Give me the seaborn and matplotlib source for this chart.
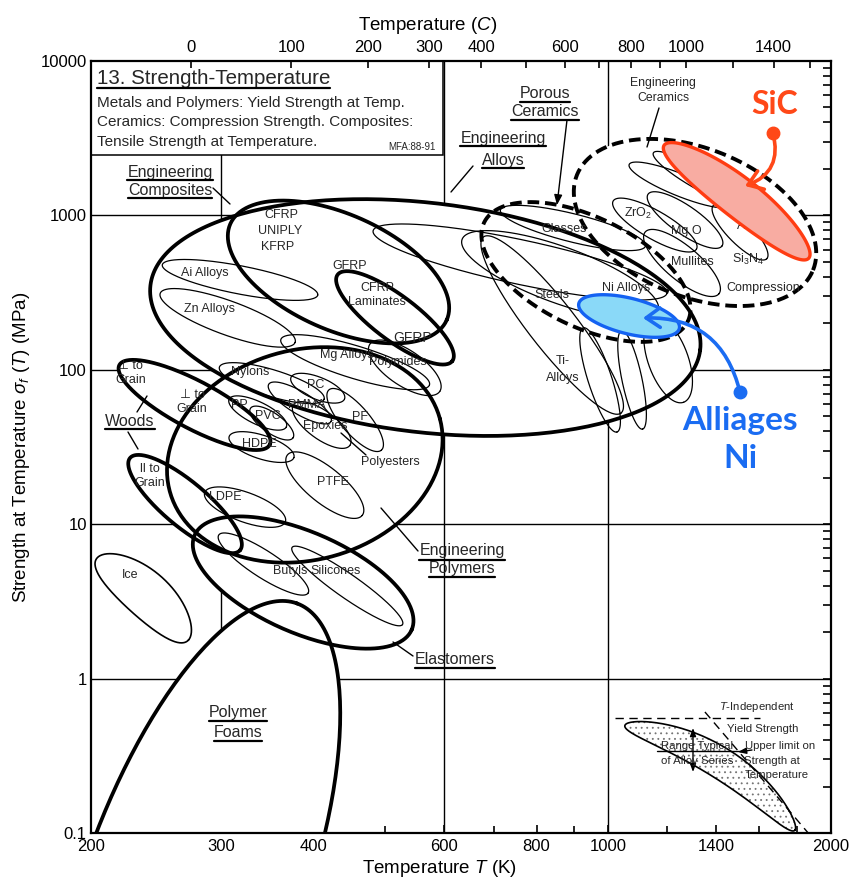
import numpy as np
import pandas as pd
import matplotlib
matplotlib.use("Agg")
import matplotlib.pyplot as plt
from matplotlib.ticker import FixedLocator, FixedFormatter, NullFormatter, LogLocator
from matplotlib.patches import Rectangle
from matplotlib.lines import Line2D
import seaborn as sns

# ---------------- data ----------------
T_range = [200, 2000]          # K
S_range = [0.1, 10000]         # MPa
T_ticks = [200, 300, 400, 600, 800, 1000, 1400, 2000]
T_minor = [500, 700, 900, 1200, 1600, 1800]
C_ticks = [0, 100, 200, 300, 400, 600, 800, 1000, 1400]
C_minor = [500, 700, 900, 1200, 1600]
S_ticks = [0.1, 1, 10, 100, 1000, 10000]
S_tick_labels = ["0.1", "1", "10", "100", "1000", "10000"]
grid_T = [300, 600, 1000]
grid_S = [1, 10, 100, 1000]

# property envelopes: centre temperature (K), centre strength (MPa),
# half-length, half-width and bend (decades of T), tilt (degrees)
env_name = ["Engineering Alloys", "Engineering Composites", "GFRP", "Engineering Polymers",
            "Woods perp", "Woods par", "Elastomers", "Polymer Foams", "Ice",
            "Porous Ceramics", "Engineering Ceramics", "SiC", "Ni Alloys",
            "ZrO2", "MgO", "Mullites", "Si3N4", "Ceramic A", "Ceramic B", "Al2O3",
            "Glasses", "Steels", "Ti Alloys", "Alloy B", "Alloy C", "Alloy D", "Alloy E",
            "Nylons", "PP", "PVC", "PMMA", "PC", "Epoxies", "PF", "HDPE", "PTFE", "LDPE",
            "Mg Alloys", "Polymides", "Ai Alloys", "Zn Alloys", "Butyls", "Silicones",
            "Alloy Series"]
env_group = ["family", "family", "family", "family",
             "family", "family", "family", "family", "ice",
             "porous", "porous", "sic", "ni",
             "material", "material", "material", "material", "material", "material", "material",
             "material", "material", "material", "material", "material", "material", "material",
             "material", "material", "material", "material", "material", "material", "material",
             "material", "material", "material",
             "material", "material", "material", "material", "material", "material",
             "legend"]
env_T = [566, 432, 515, 389,
         276, 268, 387, 276, 235,
         933, 1310, 1491, 1067,
         1156, 1270, 1258, 1507, 1250, 1318, 1578,
         896, 861, 840, 975, 1077, 1205, 760,
         351, 336, 351, 383, 405, 410, 455, 340, 414, 323,
         455, 531, 318, 306, 342, 444,
         1373]
env_S = [218, 430, 217, 28.1,
         59.2, 13.5, 4.19, 0.046, 3.28,
         430, 900, 1230, 223,
         866, 933, 492, 780, 1574, 1747, 1006,
         829, 411, 195, 86, 86, 116, 499,
         82, 52.5, 45.2, 61, 76, 43.9, 47.3, 31.6, 17.9, 12.9,
         112, 103, 382, 217, 5.52, 3.98,
         0.229]
env_len = [0.374, 0.160, 0.097, 0.189,
           0.115, 0.097, 0.160, 0.405, 0.083,
           0.153, 0.172, 0.124, 0.070,
           0.065, 0.061, 0.065, 0.051, 0.074, 0.068, 0.068,
           0.101, 0.141, 0.151, 0.074, 0.068, 0.061, 0.203,
           0.074, 0.043, 0.035, 0.049, 0.039, 0.047, 0.054, 0.046, 0.065, 0.058,
           0.105, 0.057, 0.107, 0.097, 0.072, 0.091,
           0.135]
env_wid = [0.155, 0.078, 0.030, 0.142,
           0.032, 0.030, 0.068, 0.149, 0.031,
           0.074, 0.100, 0.027, 0.024,
           0.019, 0.019, 0.023, 0.016, 0.015, 0.0135, 0.018,
           0.019, 0.038, 0.032, 0.016, 0.0135, 0.027, 0.030,
           0.018, 0.015, 0.0135, 0.015, 0.015, 0.019, 0.019, 0.016, 0.024, 0.020,
           0.022, 0.024, 0.019, 0.023, 0.018, 0.016,
           0.021]
env_tilt = [-6.7, -24, -37, 15,
            -28, -40, -23.6, 70, -42,
            -26, -22, -38, -14,
            -30, -35, -40, -45, -22, -30, -38,
            -14, -20, -52, -72, -78, -70, -12,
            -17, -26, -35, -31, -22, -36, -49, -18, -39, -20,
            -17, -34, -11, -20, -33, -35,
            -31.7]
env_bend = [0] * 8 + [0.008] + [0] * 2 + [0.006] + [0] * 31 + [0.024]

# reference lines of the inset sketch
indep_T = [1021, 1604]
indep_S = [0.556, 0.556]
limit_T = [1351, 1880]
limit_S = [0.608, 0.095]

# ---------------- figure ----------------
sns.set_theme(style="white")
plt.rcParams["font.family"] = ["Liberation Sans", "DejaVu Sans"]
plt.rcParams["mathtext.fontset"] = "custom"
plt.rcParams["mathtext.rm"] = "Liberation Sans"
plt.rcParams["mathtext.it"] = "Liberation Sans:italic"
plt.rcParams["mathtext.bf"] = "Liberation Sans:bold"
plt.rcParams["hatch.color"] = "0.45"
plt.rcParams["hatch.linewidth"] = 0.6

fig = plt.figure(figsize=(8.56, 8.88), dpi=100)
ax = fig.add_axes([91 / 856, 1 - 833 / 888, 740 / 856, 772 / 888])
ax.set_xscale("log")
ax.set_yscale("log")
ax.set_xlim(*T_range)
ax.set_ylim(*S_range)
ax.set_autoscale_on(False)

W = ax.bbox.width  # display pixels per decade of T


def envelope(T, S, a, b, tilt, bend, n=241):
    cx, cy = ax.transData.transform((T, S))
    t = np.linspace(0, 2 * np.pi, n)
    c, s = np.cos(t), np.sin(t)
    th = np.deg2rad(tilt)
    ux, uy = np.cos(th), np.sin(th)
    vx, vy = -uy, ux
    al = a * W * c
    ac = b * W * s + bend * W * (1 - c ** 2)
    X = cx + al * ux + ac * vx
    Y = cy + al * uy + ac * vy
    d = ax.transData.inverted().transform(np.column_stack([X, Y]))
    return d[:, 0], d[:, 1]


frames = []
for i, nm in enumerate(env_name):
    x, y = envelope(env_T[i], env_S[i], env_len[i], env_wid[i], env_tilt[i], env_bend[i])
    frames.append(pd.DataFrame({"T": x, "S": y, "name": nm, "group": env_group[i]}))
df = pd.concat(frames, ignore_index=True)

# grid lines
for gT in grid_T:
    ax.axvline(gT, color="black", lw=1.0, zorder=0.5)
for gS in grid_S:
    ax.axhline(gS, color="black", lw=1.0, zorder=0.5)

# white fills of the big envelopes
for nm, g in df.groupby("name", sort=False):
    grp = g["group"].iloc[0]
    if grp in ("family", "porous", "ice", "legend"):
        ax.fill(g["T"], g["S"], facecolor="white", edgecolor="none", zorder=1)
    if grp == "legend":
        ax.fill(g["T"], g["S"], facecolor="none", edgecolor="0.45", lw=0, hatch="...",
                zorder=1.1)

# outlines
sns.lineplot(data=df[df.group == "material"], x="T", y="S", units="name", estimator=None,
             sort=False, color="black", lw=0.9, ax=ax, legend=False, zorder=2)
sns.lineplot(data=df[df.group.isin(["ice", "legend"])], x="T", y="S", units="name",
             estimator=None, sort=False, color="black", lw=1.2, ax=ax, legend=False, zorder=2)
sns.lineplot(data=df[df.group == "family"], x="T", y="S", units="name", estimator=None,
             sort=False, color="black", lw=2.7, ax=ax, legend=False, zorder=2.4)
for nm, g in df[df.group == "porous"].groupby("name", sort=False):
    ax.plot(g["T"], g["S"], color="black", lw=2.8, ls=(0, (3, 1.5)), zorder=2.5)
for nm, g in df[df.group == "sic"].groupby("name", sort=False):
    ax.fill(g["T"], g["S"], facecolor="#f8aca2", edgecolor="#ff3c12", lw=2.4, zorder=3)
for nm, g in df[df.group == "ni"].groupby("name", sort=False):
    ax.fill(g["T"], g["S"], facecolor="#8ad9f8", edgecolor="#1462f2", lw=2.4, zorder=3)

sns.lineplot(x=indep_T, y=indep_S, color="black", lw=1.0, ax=ax, legend=False, zorder=2.6,
             linestyle=(0, (6, 4)))
sns.lineplot(x=limit_T, y=limit_S, color="black", lw=1.0, ax=ax, legend=False, zorder=2.6,
             linestyle=(0, (6, 4)))
ax.set_xlim(*T_range)
ax.set_ylim(*S_range)


# ---------------- text ----------------
def P(px, py):
    return ((px - 91) / 740, (833 - py) / 772)


def label(px, py, s, size=9.3, ha="center", va="center", z=6, **kw):
    return ax.text(*P(px, py), s, transform=ax.transAxes, fontsize=size, ha=ha, va=va,
                   zorder=z, **kw)


small = [(281, 215, "CFRP"), (280, 231, "UNIPLY"), (278, 247, "KFRP"), (350, 266, "GFRP"),
         (377, 288, "CFRP"), (377, 302, "Laminates"), (205, 273, "Ai Alloys"),
         (210, 309, "Zn Alloys"), (347, 355, "Mg Alloys"), (398, 362, "Polymides"),
         (250, 372, "Nylons"), (239, 405, "PP"), (268, 416, "PVC"), (307, 405, "PMMA"),
         (316, 385, "PC"), (325, 426, "Epoxies"), (360, 417, "PF"), (259, 444, "HDPE"),
         (390, 462, "Polyesters"), (333, 482, "PTFE"), (225, 497, "LDPE"),
         (290, 571, "Butyls"), (336, 571, "Silicones"), (130, 575, "Ice"),
         (130, 366, "\u22a5 to"), (131, 380, "Grain"), (192, 395, "\u22a5 to"),
         (192, 409, "Grain"), (150, 469, "ll to"), (150, 483, "Grain"),
         (564, 229, "Glasses"), (552, 295, "Steels"), (626, 288, "Ni Alloys"),
         (563, 361, "Ti-"), (563, 378, "Alloys"), (638, 213, "ZrO$_2$"),
         (686, 231, "Mg O"), (692, 262, "Mullites"), (748, 259, "Si$_3$N$_4$"),
         (763, 288, "Compression")]
for px, py, s in small:
    label(px, py, s, 9.0)
label(663, 83, "Engineering", 8.8)
label(663, 98, "Ceramics", 8.8)
label(752, 226, "Al$_2$O$_3$", 9.0, z=2.8)
label(413, 338, "GFRP", 10)

fam = [(170, 172, "Engineering"), (170, 190, "Composites"), (503, 138, "Engineering"),
       (503, 160, "Alloys"), (545, 94, "Porous"), (545, 112, "Ceramics"),
       (130, 421, "Woods"), (462, 551, "Engineering"), (462, 569, "Polymers"),
       (455, 659, "Elastomers"), (238, 712, "Polymer"), (238, 732, "Foams")]
underlined = [label(px, py, s, 11.5) for px, py, s in fam]

# title box
ax.add_patch(Rectangle(P(91, 155), (443 - 91) / 740, (155 - 61) / 772, transform=ax.transAxes,
                       facecolor="white", edgecolor="black", lw=1.1, zorder=3))
underlined.append(label(97, 78, "13. Strength-Temperature", 14.8, ha="left"))
label(97, 103, "Metals and Polymers: Yield Strength at Temp.", 11.0, ha="left")
label(97, 122, "Ceramics: Compression Strength. Composites:", 11.0, ha="left")
label(97, 142, "Tensile Strength at Temperature.", 11.0, ha="left")
label(436, 147, "MFA:88-91", 7, ha="right")

# inset sketch text
label(757, 707, "$T$-Independent", 8.2)
label(763, 729, "Yield Strength", 8.2)
label(697, 746, "Range Typical", 8.2)
label(697, 761, "of Alloy Series", 8.2)
label(780, 746, "Upper limit on", 8.2)
label(772, 761, "Strength at", 8.2)
label(777, 775, "Temperature", 8.2)

# pointer lines
pointers = [((213, 188), (230, 204)), ((473, 166), (451, 192)), ((659, 108), (647, 147)),
            ((137, 412), (147, 396)), ((128, 432), (138, 449)), ((418, 551), (381, 508)),
            ((413, 656), (393, 642)), ((366, 455), (341, 433)), ((657, 751), (741, 751))]
for a, b in pointers:
    pa, pb = P(*a), P(*b)
    ax.add_line(Line2D([pa[0], pb[0]], [pa[1], pb[1]], transform=ax.transAxes, color="black",
                       lw=1.0, zorder=5))
ax.annotate("", xy=P(557, 205), xycoords="axes fraction", xytext=P(567, 120),
            textcoords="axes fraction", zorder=5,
            arrowprops=dict(arrowstyle="-|>,head_length=0.5,head_width=0.2", color="black",
                            lw=1.0, shrinkA=0, shrinkB=0))
ax.annotate("", xy=P(693, 728), xycoords="axes fraction", xytext=P(693, 772),
            textcoords="axes fraction", zorder=5,
            arrowprops=dict(arrowstyle="<|-|>,head_length=0.4,head_width=0.15", color="black",
                            lw=1.0, shrinkA=0, shrinkB=0))
ax.annotate("", xy=P(738, 752), xycoords="axes fraction", xytext=P(752, 750),
            textcoords="axes fraction", zorder=5,
            arrowprops=dict(arrowstyle="-|>,head_length=0.4,head_width=0.15", color="black",
                            lw=1.0, shrinkA=0, shrinkB=0))

# coloured annotations
red = "#ff4818"
blue = "#1a6cf2"
label(775, 104, "SiC", 23, color=red, fontweight="bold", family=["Lato", "DejaVu Sans"])
label(740, 420, "Alliages", 24, color=blue, fontweight="bold", family=["Lato", "DejaVu Sans"])
label(740, 458, "Ni", 24, color=blue, fontweight="bold", family=["Lato", "DejaVu Sans"])
ax.plot(*P(773, 133), "o", color=red, ms=9, transform=ax.transAxes, zorder=7, clip_on=False)
ax.plot(*P(740, 392), "o", color=blue, ms=9, transform=ax.transAxes, zorder=7, clip_on=False)
ax.annotate("", xy=P(745, 186), xycoords="axes fraction", xytext=P(773, 133),
            textcoords="axes fraction", zorder=7,
            arrowprops=dict(arrowstyle="->,head_length=0.5,head_width=0.35", color=red, lw=2.6,
                            connectionstyle="arc3,rad=-0.45", shrinkA=0, shrinkB=0,
                            mutation_scale=20))
ax.annotate("", xy=P(643, 318), xycoords="axes fraction", xytext=P(740, 392),
            textcoords="axes fraction", zorder=7,
            arrowprops=dict(arrowstyle="->,head_length=0.5,head_width=0.35", color=blue, lw=2.6,
                            connectionstyle="arc3,rad=0.4", shrinkA=0, shrinkB=0,
                            mutation_scale=20))

# ---------------- axes & ticks ----------------
ax.xaxis.set_major_locator(FixedLocator(T_ticks))
ax.xaxis.set_major_formatter(FixedFormatter([str(t) for t in T_ticks]))
ax.xaxis.set_minor_locator(FixedLocator(T_minor))
ax.xaxis.set_minor_formatter(NullFormatter())
ax.yaxis.set_major_locator(FixedLocator(S_ticks))
ax.yaxis.set_major_formatter(FixedFormatter(S_tick_labels))
ax.yaxis.set_minor_locator(LogLocator(base=10, subs=np.arange(2, 10), numticks=30))
ax.yaxis.set_minor_formatter(NullFormatter())
ax.tick_params(axis="both", which="both", direction="in", top=False, right=True,
               labelsize=12, color="black", labelcolor="black")
ax.tick_params(axis="x", which="major", length=6, width=1.2, pad=4)
ax.tick_params(axis="x", which="minor", length=5, width=1.2)
ax.tick_params(axis="y", which="major", length=6, width=1.2, pad=3)
ax.tick_params(axis="y", which="minor", length=6, width=1.2)
for sp in ax.spines.values():
    sp.set_color("black")
    sp.set_linewidth(1.6)
    sp.set_visible(True)
    sp.set_zorder(8)

ax2 = ax.twiny()
ax2.set_xscale("log")
ax2.set_xlim(*T_range)
ax2.xaxis.set_major_locator(FixedLocator([c + 273.15 for c in C_ticks]))
ax2.xaxis.set_major_formatter(FixedFormatter([str(c) for c in C_ticks]))
ax2.xaxis.set_minor_locator(FixedLocator([c + 273.15 for c in C_minor]))
ax2.xaxis.set_minor_formatter(NullFormatter())
ax2.tick_params(axis="x", which="both", direction="in", labelsize=12, length=5, width=1.2,
                pad=4, color="black", labelcolor="black")
for sp in ax2.spines.values():
    sp.set_visible(False)

ax.set_xlabel("Temperature $T$ (K)", fontsize=13.5, color="black")
ax.set_ylabel(r"Strength at Temperature $\sigma_f$ $(T)$ (MPa)", fontsize=13.5, color="black")
ax2.set_xlabel("Temperature ($C$)", fontsize=13.5, color="black")
ax.xaxis.set_label_coords((440 - 91) / 740, (833 - 858) / 772)
ax.yaxis.set_label_coords((32 - 91) / 740, 0.5)
ax2.xaxis.set_label_coords((428 - 91) / 740, (833 - 30) / 772)

# underlines for family labels
fig.canvas.draw()
r = fig.canvas.get_renderer()
inv = ax.transAxes.inverted()
for t in underlined:
    bb = t.get_window_extent(r)
    (x0, y0), (x1, _) = inv.transform([(bb.x0, bb.y0 - 1.0), (bb.x1, bb.y0)])
    ax.add_line(Line2D([x0, x1], [y0, y0], transform=ax.transAxes, color="black", lw=1.6,
                       zorder=6))

fig.savefig("out.png", dpi=100)
